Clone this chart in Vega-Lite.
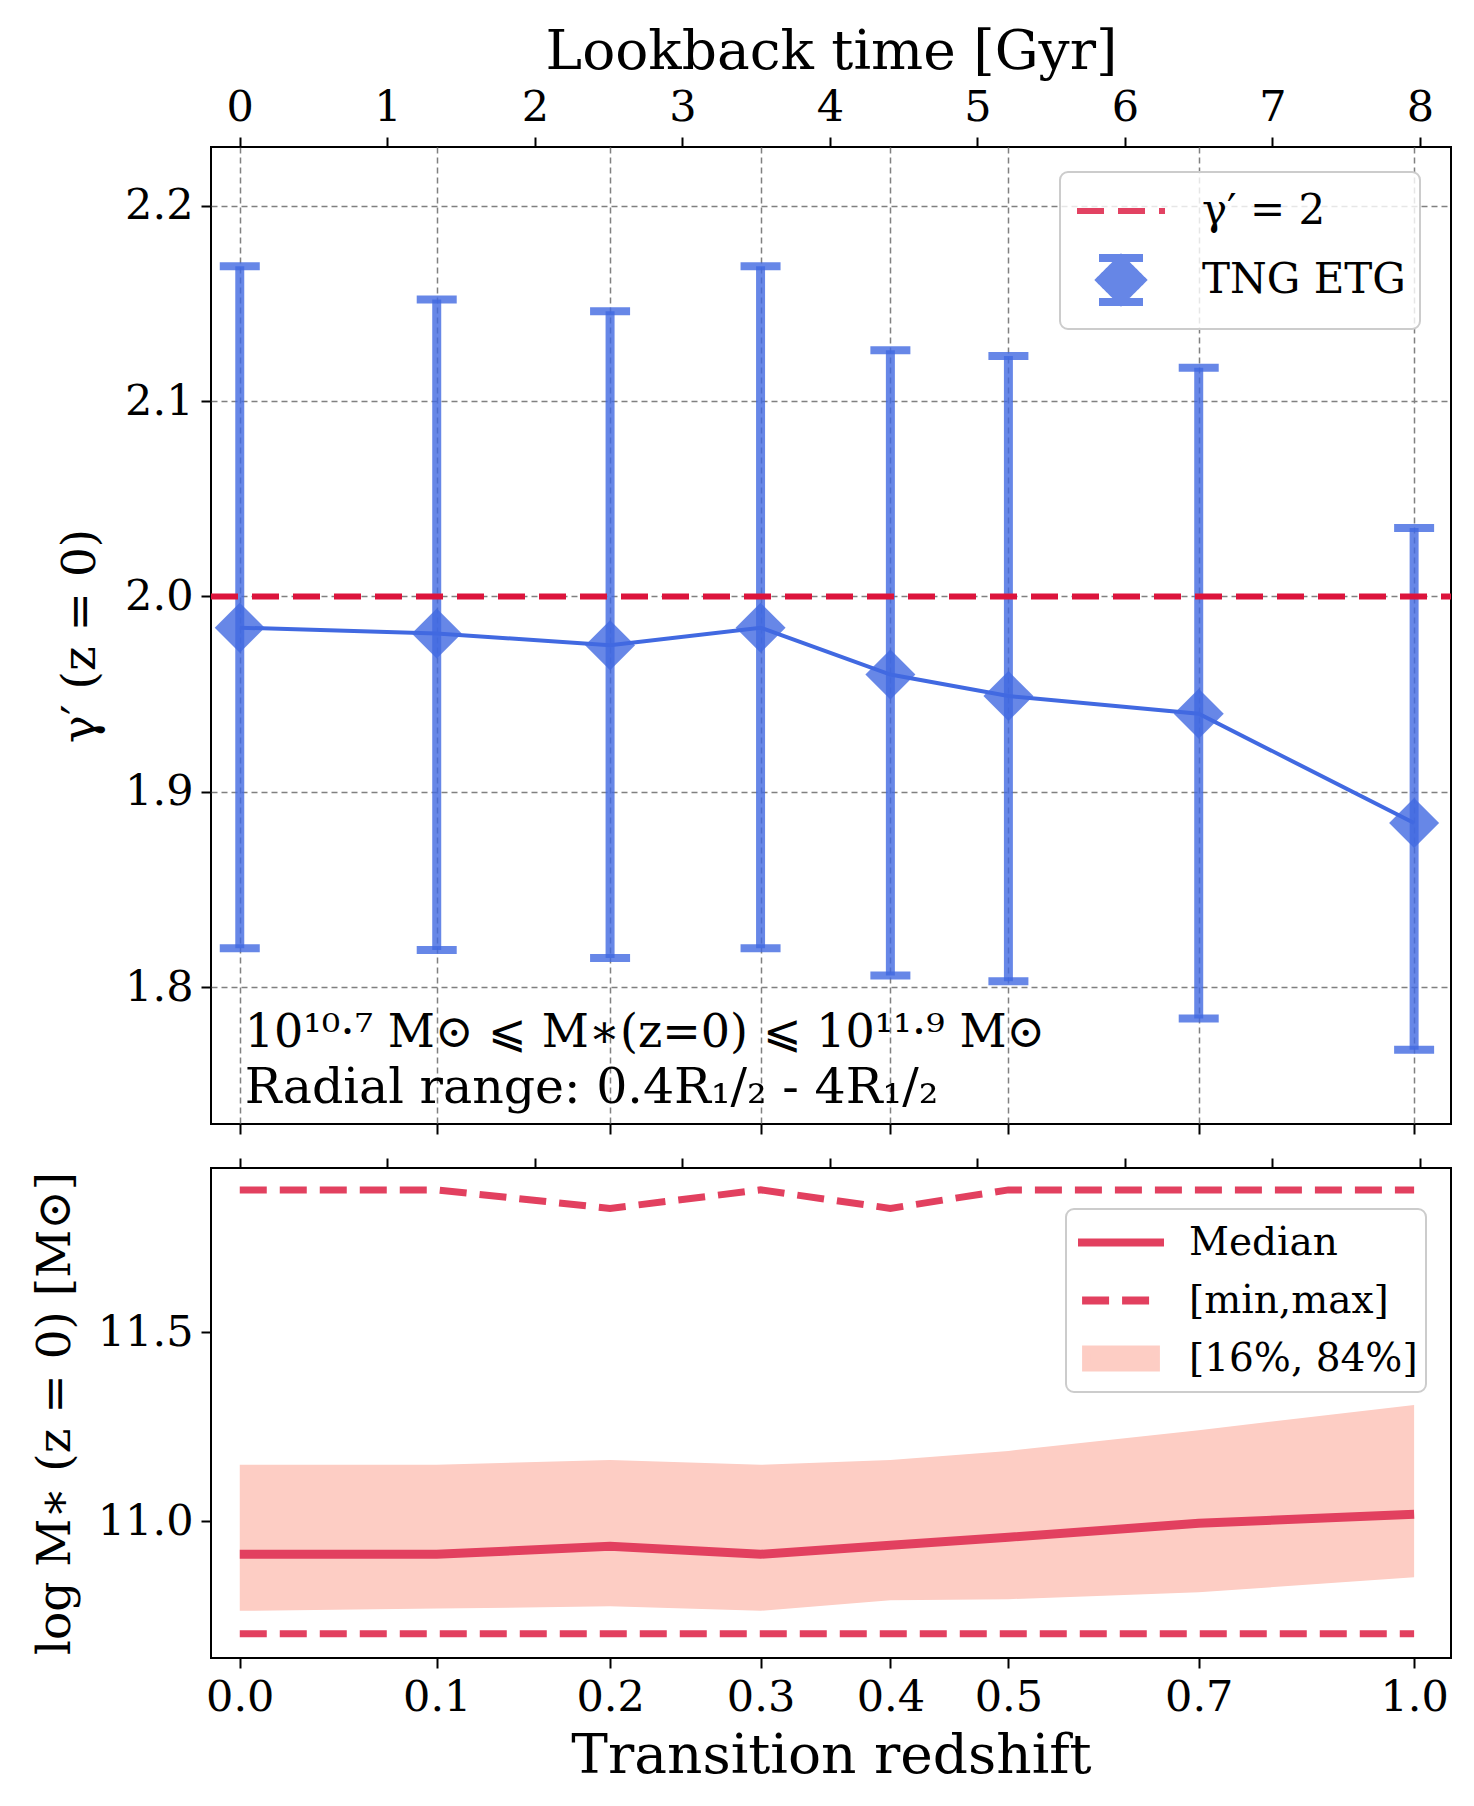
{
  "$schema": "https://vega.github.io/schema/vega-lite/v6.json",
  "padding": {"left": 30, "top": 23, "right": 5, "bottom": 5},
  "bounds": "flush",
  "spacing": 44,
  "resolve": {"scale": {"color": "independent", "shape": "independent", "strokeDash": "independent"}},
  "config": {
    "font": "DejaVu Serif",
    "view": {"stroke": "black", "strokeWidth": 2},
    "axis": {
      "labelFont": "DejaVu Serif", "labelFontSize": 43, "labelColor": "black",
      "titleFont": "DejaVu Serif", "titleFontSize": 55, "titleFontWeight": "normal", "titleColor": "black",
      "tickColor": "black", "tickSize": 10, "tickWidth": 2, "domain": false,
      "gridColor": "#808080", "gridDash": [6, 4], "gridWidth": 1.5, "labelPadding": 8
    },
    "legend": {
      "labelFont": "DejaVu Serif", "labelFontSize": 42, "labelColor": "black", "labelLimit": 400,
      "fillColor": "rgba(255,255,255,0.8)", "strokeColor": "#cccccc", "strokeWidth": 2, "cornerRadius": 8
    }
  },
  "datasets": {
    "gamma": [
      {"z": 0.0, "lb": 0.0, "med": 1.984, "lo": 1.820, "hi": 2.169},
      {"z": 0.1, "lb": 1.335, "med": 1.981, "lo": 1.819, "hi": 2.152},
      {"z": 0.2, "lb": 2.51, "med": 1.975, "lo": 1.815, "hi": 2.146},
      {"z": 0.3, "lb": 3.53, "med": 1.984, "lo": 1.820, "hi": 2.169},
      {"z": 0.4, "lb": 4.41, "med": 1.960, "lo": 1.806, "hi": 2.126},
      {"z": 0.5, "lb": 5.21, "med": 1.949, "lo": 1.803, "hi": 2.123},
      {"z": 0.7, "lb": 6.50, "med": 1.940, "lo": 1.784, "hi": 2.117},
      {"z": 1.0, "lb": 7.96, "med": 1.884, "lo": 1.768, "hi": 2.035}
    ],
    "mass": [
      {"z": 0.0, "lb": 0.0, "med": 10.912, "p16": 10.762, "p84": 11.149, "mn": 10.701, "mx": 11.878},
      {"z": 0.1, "lb": 1.335, "med": 10.912, "p16": 10.768, "p84": 11.149, "mn": 10.701, "mx": 11.878},
      {"z": 0.2, "lb": 2.51, "med": 10.933, "p16": 10.774, "p84": 11.162, "mn": 10.701, "mx": 11.829},
      {"z": 0.3, "lb": 3.53, "med": 10.912, "p16": 10.762, "p84": 11.149, "mn": 10.701, "mx": 11.878},
      {"z": 0.4, "lb": 4.41, "med": 10.936, "p16": 10.790, "p84": 11.162, "mn": 10.701, "mx": 11.829},
      {"z": 0.5, "lb": 5.21, "med": 10.957, "p16": 10.793, "p84": 11.186, "mn": 10.701, "mx": 11.878},
      {"z": 0.7, "lb": 6.50, "med": 10.994, "p16": 10.811, "p84": 11.241, "mn": 10.701, "mx": 11.878},
      {"z": 1.0, "lb": 7.96, "med": 11.018, "p16": 10.851, "p84": 11.308, "mn": 10.701, "mx": 11.878}
    ],
    "ref": [{"y": 2.0, "x0": -0.195, "x1": 8.21}]
  },
  "vconcat": [
    {
      "width": 1240,
      "height": 977,
      "resolve": {"axis": {"x": "independent"}},
      "layer": [
        {
          "data": {"name": "gamma"},
          "mark": {"type": "rule", "strokeWidth": 9, "color": "#4169e1", "opacity": 0.8},
          "encoding": {
            "x": {"field": "lb", "type": "quantitative",
                  "scale": {"domain": [-0.195, 8.21], "nice": false, "zero": false},
                  "axis": {"orient": "bottom", "values": [0, 1.335, 2.51, 3.53, 4.41, 5.21, 6.5, 7.96], "labels": false, "grid": true, "title": null}},
            "y": {"field": "lo", "type": "quantitative",
                  "scale": {"domain": [1.73, 2.23], "nice": false, "zero": false},
                  "axis": {"values": [1.8, 1.9, 2.0, 2.1, 2.2], "format": ".1f", "grid": true, "title": "γ′ (z = 0)", "titleFontSize": 47, "titlePadding": 20}},
            "y2": {"field": "hi"}
          }
        },
        {
          "data": {"name": "ref"},
          "mark": {"type": "rule", "strokeWidth": 6, "strokeDash": [27, 14]},
          "encoding": {
            "x": {"field": "x0", "type": "quantitative", "axis": null},
            "x2": {"field": "x1"},
            "y": {"field": "y", "type": "quantitative", "title": "γ′ (z = 0)"},
            "color": {"datum": "γ′ = 2", "type": "nominal",
              "scale": {"domain": ["γ′ = 2", "TNG ETG"], "range": ["#dc143c", "#4169e1"]},
              "legend": {
                "title": null, "orient": "none", "legendX": 849, "legendY": 25, "padding": 14,
                "rowPadding": 13, "labelOffset": 78,
                "symbolSize": 1936, "symbolStrokeWidth": 6, "symbolOpacity": 0.85
              }}
          }
        },
        {
          "data": {"name": "gamma"},
          "mark": {"type": "tick", "orient": "horizontal", "size": 40, "thickness": 8, "color": "#4169e1", "opacity": 0.8},
          "encoding": {
            "x": {"field": "lb", "type": "quantitative", "axis": null},
            "y": {"field": "lo", "type": "quantitative", "title": "γ′ (z = 0)"}
          }
        },
        {
          "data": {"name": "gamma"},
          "mark": {"type": "tick", "orient": "horizontal", "size": 40, "thickness": 8, "color": "#4169e1", "opacity": 0.8},
          "encoding": {
            "x": {"field": "lb", "type": "quantitative", "axis": null},
            "y": {"field": "hi", "type": "quantitative", "title": "γ′ (z = 0)"}
          }
        },
        {
          "data": {"name": "gamma"},
          "mark": {"type": "line", "strokeWidth": 4, "color": "#4169e1"},
          "encoding": {
            "x": {"field": "lb", "type": "quantitative",
                  "axis": {"orient": "top", "values": [0, 1, 2, 3, 4, 5, 6, 7, 8], "format": "d", "grid": false, "title": "Lookback time [Gyr]", "titlePadding": 6}},
            "y": {"field": "med", "type": "quantitative", "title": "γ′ (z = 0)"}
          }
        },
        {
          "data": {"name": "gamma"},
          "mark": {"type": "point", "shape": "diamond", "filled": true, "size": 2500, "opacity": 0.8},
          "encoding": {
            "x": {"field": "lb", "type": "quantitative", "axis": null},
            "y": {"field": "med", "type": "quantitative", "title": "γ′ (z = 0)"},
            "color": {"datum": "TNG ETG", "type": "nominal"}
          }
        },
        {
          "data": {"values": []},
          "mark": {"type": "point", "filled": true, "opacity": 0.85},
          "encoding": {
            "shape": {"datum": "TNG ETG", "type": "nominal",
              "scale": {"domain": ["γ′ = 2", "TNG ETG"],
                        "range": ["M-1,0H3", "M0.136,-1.045H1.864V-0.955H0.136Z M0.136,0.955H1.864V1.045H0.136Z M0.93,-1H1.07V1H0.93Z M1,-1.02L2.02,0L1,1.02L-0.02,0Z"]}},
            "strokeDash": {"datum": "TNG ETG", "type": "nominal",
              "scale": {"domain": ["γ′ = 2", "TNG ETG"], "range": [[27, 14], [1, 0]]}}
          }
        },
        {
          "data": {"name": "gamma"},
          "transform": [{"filter": "datum.z === 0"}],
          "mark": {"type": "text", "align": "left", "baseline": "alphabetic", "fontSize": 46, "font": "DejaVu Serif", "color": "black", "dx": 5},
          "encoding": {
            "x": {"field": "lb", "type": "quantitative", "axis": null},
            "y": {"datum": 1.7693, "type": "quantitative", "title": "γ′ (z = 0)"},
            "text": {"value": "10¹⁰·⁷ M⊙ ⩽ M∗(z=0) ⩽ 10¹¹·⁹ M⊙"}
          }
        },
        {
          "data": {"name": "gamma"},
          "transform": [{"filter": "datum.z === 0"}],
          "mark": {"type": "text", "align": "left", "baseline": "alphabetic", "fontSize": 49, "font": "DejaVu Serif", "color": "black", "dx": 5},
          "encoding": {
            "x": {"field": "lb", "type": "quantitative", "axis": null},
            "y": {"datum": 1.7405, "type": "quantitative", "title": "γ′ (z = 0)"},
            "text": {"value": "Radial range: 0.4R₁/₂ - 4R₁/₂"}
          }
        }
      ]
    },
    {
      "width": 1240,
      "height": 490,
      "resolve": {"axis": {"x": "independent"}},
      "layer": [
        {
          "data": {"name": "mass"},
          "mark": {"type": "area", "opacity": 1},
          "encoding": {
            "x": {"field": "lb", "type": "quantitative",
                  "scale": {"domain": [-0.195, 8.21], "nice": false, "zero": false},
                  "axis": {"orient": "top", "values": [0, 1, 2, 3, 4, 5, 6, 7, 8], "labels": false, "grid": false, "title": null}},
            "y": {"field": "p16", "type": "quantitative",
                  "scale": {"domain": [10.637, 11.936], "nice": false, "zero": false},
                  "axis": {"values": [11.0, 11.5], "format": ".1f", "grid": false, "title": "log M∗ (z = 0) [M⊙]", "titleFontSize": 47, "titlePadding": 18}},
            "y2": {"field": "p84"},
            "color": {"datum": "[16%, 84%]", "type": "nominal",
              "scale": {"domain": ["Median", "[min,max]", "[16%, 84%]"], "range": ["#e2405f", "#e2405f", "#fdcdc4"]},
              "legend": {
                "title": null, "orient": "none", "legendX": 855, "legendY": 41, "padding": 8,
                "rowPadding": 12, "labelOffset": 64, "labelFontSize": 39,
                "symbolSize": 1849, "symbolStrokeWidth": 8, "symbolOpacity": 1
              }}
          }
        },
        {
          "data": {"name": "mass"},
          "mark": {"type": "line", "strokeWidth": 7, "strokeDash": [27, 13]},
          "encoding": {
            "x": {"field": "lb", "type": "quantitative",
                  "axis": {"orient": "bottom", "values": [0, 1.335, 2.51, 3.53, 4.41, 5.21, 6.5, 7.96],
                           "labelExpr": "datum.value < 0.5 ? '0.0' : datum.value < 2 ? '0.1' : datum.value < 3 ? '0.2' : datum.value < 4 ? '0.3' : datum.value < 5 ? '0.4' : datum.value < 6 ? '0.5' : datum.value < 7 ? '0.7' : '1.0'",
                           "grid": false, "title": "Transition redshift", "titlePadding": 10}},
            "y": {"field": "mx", "type": "quantitative", "title": "log M∗ (z = 0) [M⊙]"},
            "color": {"datum": "[min,max]", "type": "nominal"}
          }
        },
        {
          "data": {"name": "mass"},
          "mark": {"type": "line", "strokeWidth": 7, "strokeDash": [27, 13]},
          "encoding": {
            "x": {"field": "lb", "type": "quantitative", "axis": null},
            "y": {"field": "mn", "type": "quantitative", "title": "log M∗ (z = 0) [M⊙]"},
            "color": {"datum": "[min,max]", "type": "nominal"}
          }
        },
        {
          "data": {"name": "mass"},
          "mark": {"type": "line", "strokeWidth": 9},
          "encoding": {
            "x": {"field": "lb", "type": "quantitative", "axis": null},
            "y": {"field": "med", "type": "quantitative", "title": "log M∗ (z = 0) [M⊙]"},
            "color": {"datum": "Median", "type": "nominal"}
          }
        },
        {
          "data": {"values": []},
          "mark": {"type": "point", "filled": true, "opacity": 1},
          "encoding": {
            "shape": {"datum": "Median", "type": "nominal",
              "scale": {"domain": ["Median", "[min,max]", "[16%, 84%]"],
                        "range": ["M-1,0H3", "M-0.81,0H2.4", "M-0.624,-0.414H2.624V0.414H-0.624Z"]}},
            "strokeDash": {"datum": "Median", "type": "nominal",
              "scale": {"domain": ["Median", "[min,max]", "[16%, 84%]"], "range": [[1, 0], [27, 13], [1, 0]]}}
          }
        }
      ]
    }
  ]
}
